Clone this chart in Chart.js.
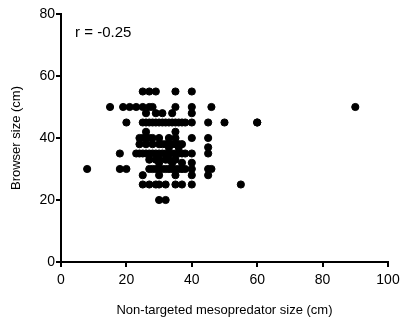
<!DOCTYPE html>
<html>
<head>
<meta charset="utf-8">
<script src="https://cdn.jsdelivr.net/npm/chart.js@4/dist/chart.umd.min.js"></script>
<style>
  html, body { margin: 0; padding: 0; background: #fff; }
  #wrap { width: 411px; height: 322px; }
</style>
</head>
<body>
<div id="wrap"><canvas id="myChart" width="411" height="322"></canvas></div>
<script>
// mesopredator size (x) vs browser size (y), one row of points per y level
var rowY = [55, 50, 48, 45, 42, 40, 38, 37, 35, 33, 32, 30, 28, 25, 20];
var rowX = [
    [25, 27, 29, 35, 40],
    [15, 19, 21, 23, 25, 27, 28, 35, 40, 46, 90],
    [26, 29, 31, 34, 40],
    [20, 25, 26, 27, 28, 29, 30, 31, 32, 33, 34, 35, 36, 37, 38, 40, 45, 50, 60, 60],
    [26, 35],
    [24, 25, 26, 27, 28, 30, 33, 35, 40, 45],
    [24, 26, 28, 30, 31, 32, 33, 34, 35, 36, 37],
    [33, 36, 45],
    [18, 23, 24, 25, 26, 27, 28, 29, 30, 31, 32, 33, 34, 35, 36, 37, 38, 40, 45],
    [27, 29, 30, 32, 33, 35],
    [30, 34, 37, 40],
    [8, 18, 20, 27, 28, 29, 30, 31, 32, 33, 34, 35, 36, 37, 38, 40, 45, 46],
    [25, 30, 35, 40, 45],
    [25, 27, 29, 30, 32, 35, 37, 40, 55],
    [30, 32]
];
var xTicks = [0, 20, 40, 60, 80, 100];
var yTicks = [0, 20, 40, 60, 80];
var rLabel = 'r = -0.25';

var points = [];
rowY.forEach(function (y, i) {
    rowX[i].forEach(function (x) { points.push({ x: x, y: y }); });
});

var labelPlugin = {
    id: 'rlabel',
    afterDraw: function (chart) {
        var c = chart.ctx;
        c.save();
        c.font = '15px "Liberation Sans", Arial, sans-serif';
        c.fillStyle = '#000';
        c.textBaseline = 'middle';
        c.fillText(rLabel, chart.scales.x.getPixelForValue(4.3), chart.scales.y.getPixelForValue(74));
        c.restore();
    }
};

var font = { family: '"Liberation Sans", Arial, sans-serif', size: 14 };

var ctx = document.getElementById('myChart').getContext('2d');
var myChart = new Chart(ctx, {
    type: 'scatter',
    data: {
        datasets: [{
            data: points,
            backgroundColor: '#000',
            borderColor: '#000',
            pointRadius: 3.6,
            pointHoverRadius: 3.6
        }]
    },
    options: {
        responsive: false,
        animation: false,
        layout: { padding: { left: 0, top: 14, right: 23, bottom: 0 } },
        plugins: { legend: { display: false }, tooltip: { enabled: false } },
        scales: {
            x: {
                type: 'linear', min: 0, max: 100,
                afterBuildTicks: function (s) { s.ticks = xTicks.map(function (v) { return { value: v }; }); },
                afterFit: function (s) { s.height = 60; },
                border: { color: '#000', width: 2 },
                grid: { drawOnChartArea: false, color: '#000', tickLength: 5, lineWidth: 2 },
                ticks: { color: '#000', font: font, padding: 5, maxRotation: 0 },
                title: { display: true, text: 'Non-targeted mesopredator size (cm)', color: '#000',
                         font: { family: font.family, size: 13 }, padding: { top: 8 } }
            },
            y: {
                type: 'linear', min: 0, max: 80,
                afterBuildTicks: function (s) { s.ticks = yTicks.map(function (v) { return { value: v }; }); },
                afterFit: function (s) { s.width = 61; },
                border: { color: '#000', width: 2 },
                grid: { drawOnChartArea: false, color: '#000', tickLength: 5, lineWidth: 2 },
                ticks: { color: '#000', font: font, padding: 1 },
                title: { display: true, text: 'Browser size (cm)', color: '#000',
                         font: { family: font.family, size: 13 }, padding: { top: 9, bottom: 0 } }
            }
        }
    },
    plugins: [labelPlugin]
});
</script>
</body>
</html>
